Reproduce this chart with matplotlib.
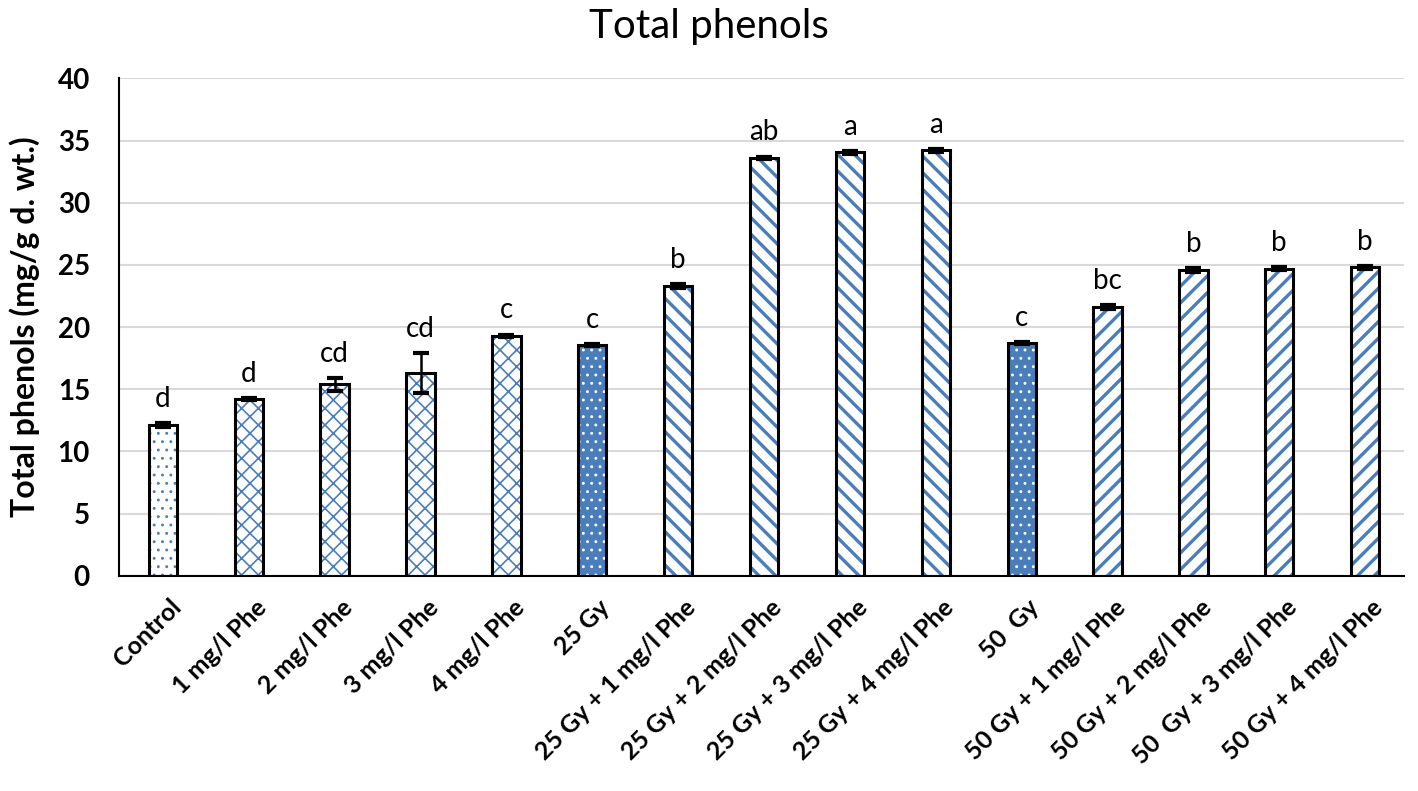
import matplotlib.pyplot as plt
import matplotlib as mpl
from matplotlib.transforms import ScaledTranslation

# data
labels = ["Control", "1 mg/l Phe", "2 mg/l Phe", "3 mg/l Phe", "4 mg/l Phe",
          "25 Gy", "25 Gy + 1 mg/l Phe", "25 Gy + 2 mg/l Phe", "25 Gy + 3 mg/l Phe",
          "25 Gy + 4 mg/l Phe", "50  Gy", "50 Gy + 1 mg/l Phe", "50 Gy + 2 mg/l Phe",
          "50  Gy + 3 mg/l Phe", "50 Gy + 4 mg/l Phe"]
values = [12.1, 14.2, 15.4, 16.3, 19.3, 18.55, 23.3, 33.6, 34.05, 34.2,
          18.7, 21.6, 24.6, 24.7, 24.8]
errors = [0.15, 0.1, 0.5, 1.6, 0.1, 0.1, 0.15, 0.1, 0.1, 0.1,
          0.1, 0.15, 0.15, 0.1, 0.1]
letters = ["d", "d", "cd", "cd", "c", "c", "b", "ab", "a", "a",
           "c", "bc", "b", "b", "b"]
groups = ["ctrl", "phe", "phe", "phe", "phe", "gy", "gy25", "gy25", "gy25", "gy25",
          "gy", "gy50", "gy50", "gy50", "gy50"]

blue = "#4A7EBB"
styles = {
    "ctrl": dict(face="white", hatch="..", hcolor=blue, hlw=0.9),
    "phe": dict(face="white", hatch="xx", hcolor=blue, hlw=1.2),
    "gy": dict(face=blue, hatch="..", hcolor="white", hlw=0.9),
    "gy25": dict(face="white", hatch="\\\\", hcolor=blue, hlw=2.4),
    "gy50": dict(face="white", hatch="//", hcolor=blue, hlw=2.4),
}

plt.rcParams["font.family"] = ["Lato", "DejaVu Sans"]

fig = plt.figure(figsize=(14.18, 7.91), dpi=100)
ax = fig.add_axes([0.084, 0.272, 0.906, 0.629])

x = list(range(len(labels)))
width = 0.33
for i, (v, g) in enumerate(zip(values, groups)):
    s = styles[g]
    with mpl.rc_context({"hatch.linewidth": s["hlw"], "hatch.color": s["hcolor"]}):
        ax.bar(i, v, width, color=s["face"], hatch=s["hatch"],
               edgecolor=s["hcolor"], linewidth=0, zorder=2)
    ax.bar(i, v, width, fill=False, edgecolor="black", linewidth=2.2, zorder=3)

ax.errorbar(x, values, yerr=errors, fmt="none", ecolor="black",
            elinewidth=1.8, capsize=6, capthick=3, zorder=4)

for i, (v, e, t) in enumerate(zip(values, errors, letters)):
    ax.text(i, v + e + 0.9, t, ha="center", va="bottom", fontsize=20)

ax.set_ylim(0, 40)
ax.set_xlim(-0.51, 14.45)
ax.set_yticks(range(0, 41, 5))
ax.yaxis.grid(True, color="#d9d9d9", linewidth=1.5, zorder=0)
ax.set_axisbelow(True)
for sp in ["top", "right"]:
    ax.spines[sp].set_visible(False)
ax.spines["left"].set_linewidth(1.5)
ax.spines["bottom"].set_linewidth(1.5)
ax.tick_params(axis="y", length=0, labelsize=20, pad=21)
for t in ax.get_yticklabels():
    t.set_fontweight("bold")

ax.set_xticks(x)
ax.set_xticklabels(labels, rotation=45, ha="right", rotation_mode="anchor",
                   fontweight="bold", fontsize=18)
ax.tick_params(axis="x", length=0, pad=14)
shift = ScaledTranslation(6 / 100, 0, fig.dpi_scale_trans)
for t in ax.get_xticklabels():
    t.set_transform(t.get_transform() + shift)

ax.set_ylabel("Total phenols (mg/g d. wt.)", fontsize=23, fontweight="bold", labelpad=13)
fig.text(0.5, 0.99, "Total phenols", ha="center", va="top", fontsize=29)

plt.savefig("out.png", dpi=100)
